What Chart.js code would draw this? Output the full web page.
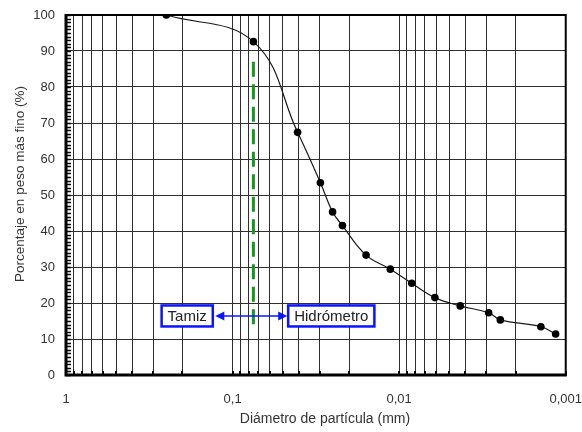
<!DOCTYPE html>
<html>
<head>
<meta charset="utf-8">
<script src="https://cdn.jsdelivr.net/npm/chart.js@4/dist/chart.umd.min.js"></script>
<style>
html,body{margin:0;padding:0;background:#fff;}
#wrap{width:582px;height:432px;position:relative;}
</style>
</head>
<body>
<div id="wrap"><canvas id="c" width="582" height="432"></canvas></div>
<script>
// ---- data ----
const diameters = [0.25, 0.075, 0.0407, 0.0297, 0.0251, 0.0219, 0.0158, 0.0113, 0.0084, 0.0061, 0.0043, 0.0029, 0.00247, 0.00141, 0.00115];
const percentFiner = [100, 92.6, 67.4, 53.4, 45.3, 41.5, 33.3, 29.4, 25.5, 21.5, 19.2, 17.3, 15.3, 13.4, 11.4];
const xGridValues = [1,0.9,0.8,0.7,0.6,0.5,0.4,0.3,0.2,0.1,0.09,0.08,0.07,0.06,0.05,0.04,0.03,0.02,0.01,0.009,0.008,0.007,0.006,0.005,0.004,0.003,0.002,0.001];
const xTickValues = [1, 0.1, 0.01, 0.001];
const xTickLabels = ['1', '0,1', '0,01', '0,001'];
const yTickStep = 10;
const yMinorStep = 1;
const xTitle = 'Diámetro de partícula (mm)';
const yTitle = 'Porcentaje en peso más fino (%)';
const boundaryDiameter = 0.075;   // sieve / hydrometer boundary
const boundaryRange = [13, 87];
const arrowDiameters = [0.127, 0.047];
const arrowLevel = 16.4;
const leftLabel = 'Tamiz';
const rightLabel = 'Hidrómetro';

const FONT = "'Liberation Sans', Arial, sans-serif";
Chart.defaults.font.family = FONT;

const points = diameters.map((d, i) => ({x: d, y: percentFiner[i]}));

function labelFor(v) {
  for (let i = 0; i < xTickValues.length; i++) {
    if (Math.abs(Math.log10(v) - Math.log10(xTickValues[i])) < 1e-6) return xTickLabels[i];
  }
  return '';
}

const decor = {
  id: 'decor',
  beforeDatasetsDraw(chart) {
    const {ctx, chartArea: a, scales: {x, y}} = chart;
    ctx.save();
    // minor ticks on left axis
    ctx.strokeStyle = '#000';
    ctx.lineWidth = 1.5;
    ctx.beginPath();
    for (let v = 0; v <= 100; v += yMinorStep) {
      const py = Math.round(y.getPixelForValue(v)) + 0.5;
      ctx.moveTo(a.left, py); ctx.lineTo(a.left + 5, py);
    }
    ctx.stroke();
    // small ticks on bottom axis
    ctx.lineWidth = 2;
    ctx.beginPath();
    xGridValues.forEach(v => {
      const px = Math.round(x.getPixelForValue(v));
      ctx.moveTo(px, a.bottom); ctx.lineTo(px, a.bottom - 4);
    });
    ctx.stroke();
    // frame
    ctx.lineWidth = 2;
    ctx.strokeRect(a.left, a.top, a.right - a.left, a.bottom - a.top);
    ctx.lineWidth = 3;
    ctx.beginPath();
    ctx.moveTo(a.left, a.top - 1); ctx.lineTo(a.left, a.bottom + 1.5);
    ctx.moveTo(a.left - 1.5, a.bottom); ctx.lineTo(a.right + 1, a.bottom);
    ctx.stroke();
    // boundary line
    const bx = x.getPixelForValue(boundaryDiameter);
    ctx.strokeStyle = '#12981a';
    ctx.lineWidth = 3;
    ctx.setLineDash([15, 7.5]);
    ctx.beginPath();
    ctx.moveTo(bx, y.getPixelForValue(boundaryRange[1]));
    ctx.lineTo(bx, y.getPixelForValue(boundaryRange[0]));
    ctx.stroke();
    ctx.setLineDash([]);
    ctx.restore();
  },
  afterDatasetsDraw(chart) {
    const {ctx, chartArea: a, scales: {x, y}} = chart;
    ctx.save();
    const blue = '#0a14ff';
    const x1 = x.getPixelForValue(arrowDiameters[0]);
    const x2 = x.getPixelForValue(arrowDiameters[1]);
    const py = y.getPixelForValue(arrowLevel);
    // arrow shaft
    ctx.strokeStyle = blue; ctx.fillStyle = blue; ctx.lineWidth = 1.5;
    ctx.beginPath(); ctx.moveTo(x1 + 6, py); ctx.lineTo(x2 - 6, py); ctx.stroke();
    // heads
    ctx.beginPath(); ctx.moveTo(x1, py); ctx.lineTo(x1 + 9, py - 4.5); ctx.lineTo(x1 + 9, py + 4.5); ctx.closePath(); ctx.fill();
    ctx.beginPath(); ctx.moveTo(x2, py); ctx.lineTo(x2 - 9, py - 4.5); ctx.lineTo(x2 - 9, py + 4.5); ctx.closePath(); ctx.fill();
    // boxes
    ctx.font = '15px ' + FONT;
    ctx.textBaseline = 'middle';
    ctx.textAlign = 'center';
    const h = 21;
    function box(text, edgeX, side) {
      const w = ctx.measureText(text).width + 12;
      const left = side === 'left' ? edgeX - 2.5 - w : edgeX + 1;
      ctx.fillStyle = '#fff';
      ctx.fillRect(left, py - h / 2, w, h);
      ctx.strokeStyle = blue; ctx.lineWidth = 2.5;
      ctx.strokeRect(left, py - h / 2, w, h);
      ctx.fillStyle = '#222';
      ctx.fillText(text, left + w / 2, py + 0.5);
    }
    box(leftLabel, x1, 'left');
    box(rightLabel, x2, 'right');
    // axis titles
    ctx.fillStyle = '#333';
    ctx.font = '14px ' + FONT;
    ctx.fillText(xTitle, a.left + 259, a.bottom + 44);
    ctx.save();
    ctx.translate(a.left - 46, (a.top + a.bottom) / 2 - 11);
    ctx.rotate(-Math.PI / 2);
    ctx.font = '13.5px ' + FONT;
    ctx.fillText(yTitle, 0, 0);
    ctx.restore();
    ctx.restore();
  }
};

new Chart(document.getElementById('c'), {
  type: 'line',
  data: {
    datasets: [{
      data: points,
      borderColor: '#1a1a1a',
      borderWidth: 1.2,
      backgroundColor: '#000',
      pointRadius: 3.8,
      pointBackgroundColor: '#000',
      pointBorderWidth: 0,
      tension: 0.4,
      fill: false
    }]
  },
  options: {
    responsive: false,
    animation: false,
    events: [],
    layout: {padding: {left: 0, right: 16, top: 15, bottom: 0}},
    plugins: {legend: {display: false}, tooltip: {enabled: false}},
    scales: {
      x: {
        type: 'logarithmic',
        reverse: true,
        min: 0.001,
        max: 1,
        afterBuildTicks: s => { s.ticks = xGridValues.map(v => ({value: v})); },
        afterFit: s => { s.height = 57; },
        ticks: {
          autoSkip: false, maxRotation: 0, minRotation: 0, padding: 0,
          color: '#333', font: {size: 13},
          callback: v => labelFor(v)
        },
        grid: {color: '#2e2e2e', lineWidth: 1, drawTicks: true, tickLength: 17, tickColor: 'rgba(0,0,0,0)'},
        border: {display: false}
      },
      y: {
        min: 0, max: 100,
        afterFit: s => { s.width = 66; },
        ticks: {stepSize: yTickStep, padding: 0, color: '#333', font: {size: 13}},
        grid: {color: '#2e2e2e', lineWidth: 1, drawTicks: true, tickLength: 11, tickColor: 'rgba(0,0,0,0)'},
        border: {display: false}
      }
    }
  },
  plugins: [decor]
});
</script>
</body>
</html>
